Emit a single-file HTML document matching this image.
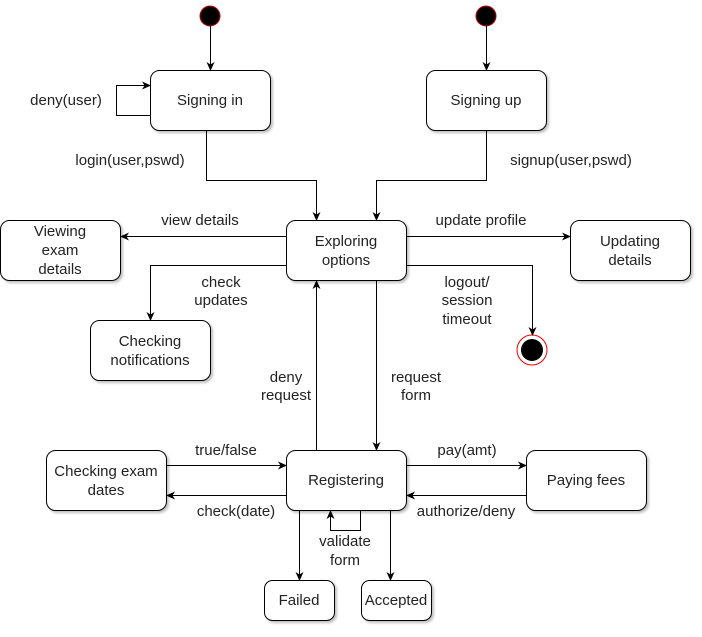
<!DOCTYPE html>
<html><head><meta charset="utf-8"><style>
body{margin:0;background:#fff}
text{font-family:"Liberation Sans",Arial,sans-serif;font-size:15px;fill:#222;text-anchor:middle}
</style></head><body>
<svg width="702" height="632" viewBox="0 0 702 632" xmlns="http://www.w3.org/2000/svg">
<defs>
<marker id="a" markerWidth="10" markerHeight="10" refX="8" refY="4" orient="auto" markerUnits="userSpaceOnUse">
<path d="M0,0 L9,4 L0,8 L2.5,4 Z" fill="#000"/></marker>
<filter id="s" x="-10%" y="-10%" width="130%" height="130%"><feDropShadow dx="2" dy="2" stdDeviation="1.2" flood-opacity="0.25"/></filter>
</defs>
<g fill="#fff" stroke="#000" stroke-width="1" filter="url(#s)">
<rect x="150.5" y="70.5" width="120" height="60" rx="9"/>
<rect x="426.5" y="70.5" width="120" height="60" rx="9"/>
<rect x="286.5" y="220.5" width="120" height="60" rx="9"/>
<rect x="0.5" y="220.5" width="120" height="60" rx="9"/>
<rect x="570.5" y="220.5" width="120" height="60" rx="9"/>
<rect x="90.5" y="320.5" width="120" height="60" rx="9"/>
<rect x="286.5" y="450.5" width="120" height="60" rx="9"/>
<rect x="46.5" y="450.5" width="120" height="60" rx="9"/>
<rect x="526.5" y="450.5" width="120" height="60" rx="9"/>
<rect x="264.5" y="580.5" width="70" height="40" rx="8"/>
<rect x="361.5" y="580.5" width="70" height="40" rx="8"/>
</g>
<circle cx="210" cy="16" r="10" fill="#000" stroke="#c00" stroke-width="1"/>
<circle cx="486" cy="16" r="10" fill="#000" stroke="#c00" stroke-width="1"/>
<circle cx="532" cy="350" r="15" fill="#fff" stroke="#e00" stroke-width="1"/>
<circle cx="532" cy="350" r="11" fill="#000"/>
<g fill="none" stroke="#000" stroke-width="1" marker-end="url(#a)">
<path d="M210.5 26V70"/>
<path d="M486.5 26V70"/>
<path d="M150 115.5H116.5V85.5H150"/>
<path d="M206.5 130V180.5H316.5V220"/>
<path d="M486.5 130V180.5H376.5V220"/>
<path d="M286 236.5H121"/>
<path d="M286 265.5H150.5V320"/>
<path d="M406 236.5H570"/>
<path d="M406 265.5H532.5V335"/>
<path d="M316.5 450V281"/>
<path d="M376.5 280V450"/>
<path d="M166 465.5H286"/>
<path d="M286 495.5H167"/>
<path d="M406 465.5H526"/>
<path d="M526 495.5H407"/>
<path d="M360.5 510V530.5H330.5V511"/>
<path d="M299.5 510V580"/>
<path d="M390.5 510V580"/>
</g>
<text x="210" y="105">Signing in</text>
<text x="486" y="105">Signing up</text>
<text x="346" y="246">Exploring</text>
<text x="346" y="265">options</text>
<text x="60" y="236">Viewing</text>
<text x="60" y="255">exam</text>
<text x="60" y="274">details</text>
<text x="630" y="246">Updating</text>
<text x="630" y="265">details</text>
<text x="150" y="346">Checking</text>
<text x="150" y="365">notifications</text>
<text x="346" y="485">Registering</text>
<text x="106" y="476">Checking exam</text>
<text x="106" y="495">dates</text>
<text x="586" y="485">Paying fees</text>
<text x="299" y="605">Failed</text>
<text x="396" y="605">Accepted</text>
<text x="66" y="105">deny(user)</text>
<text x="130" y="165">login(user,pswd)</text>
<text x="571" y="165">signup(user,pswd)</text>
<text x="200" y="225">view details</text>
<text x="481" y="225">update profile</text>
<text x="221" y="287">check</text>
<text x="221" y="305">updates</text>
<text x="467" y="287">logout/</text>
<text x="467" y="305">session</text>
<text x="467" y="324">timeout</text>
<text x="286" y="382">deny</text>
<text x="286" y="400">request</text>
<text x="416" y="382">request</text>
<text x="416" y="400">form</text>
<text x="226" y="455">true/false</text>
<text x="236" y="516">check(date)</text>
<text x="467" y="455">pay(amt)</text>
<text x="466" y="516">authorize/deny</text>
<text x="345" y="546">validate</text>
<text x="345" y="565">form</text>
</svg>
</body></html>
